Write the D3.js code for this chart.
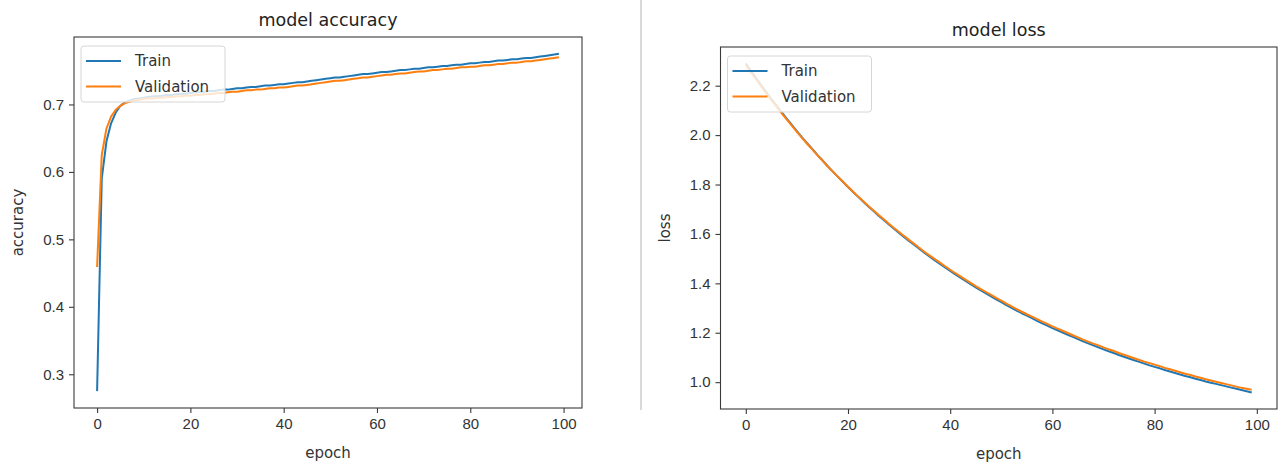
<!DOCTYPE html>
<html>
<head>
<meta charset="utf-8">
<script src="https://cdn.jsdelivr.net/npm/d3@7"></script>
<style>
  body { margin: 0; background: #fff; }
  svg { display: block; font-family: "DejaVu Sans", sans-serif; }
  .axis path, .axis line { stroke: #3a3a3a; stroke-width: 1.1; }
  .axis text { fill: #333; font-size: 15px; }
</style>
</head>
<body>
<script>
  // epochs 0..99
  var epochs = d3.range(100);

  var trainAcc = [
    0.275, 0.590, 0.645, 0.672, 0.688, 0.698, 0.703, 0.706, 0.708, 0.709,
    0.710, 0.711, 0.712, 0.712, 0.713, 0.714, 0.714, 0.715, 0.716, 0.716,
    0.717, 0.718, 0.718, 0.719, 0.720, 0.720, 0.721, 0.722, 0.722, 0.723,
    0.724, 0.724, 0.725, 0.726, 0.726, 0.727, 0.728, 0.728, 0.729, 0.730,
    0.730, 0.731, 0.732, 0.733, 0.733, 0.734, 0.735, 0.736, 0.737, 0.738,
    0.739, 0.740, 0.740, 0.741, 0.742, 0.743, 0.744, 0.745, 0.745, 0.746,
    0.747, 0.748, 0.748, 0.749, 0.750, 0.751, 0.751, 0.752, 0.753, 0.753,
    0.754, 0.755, 0.755, 0.756, 0.757, 0.757, 0.758, 0.759, 0.759, 0.760,
    0.761, 0.761, 0.762, 0.763, 0.763, 0.764, 0.765, 0.765, 0.766, 0.767,
    0.767, 0.768, 0.769, 0.769, 0.770, 0.771, 0.772, 0.773, 0.774, 0.775
  ];

  var valAcc = [
    0.459, 0.625, 0.664, 0.682, 0.692, 0.698, 0.702, 0.704, 0.706, 0.707,
    0.708, 0.709, 0.709, 0.710, 0.710, 0.711, 0.711, 0.712, 0.712, 0.713,
    0.713, 0.714, 0.714, 0.715, 0.715, 0.716, 0.717, 0.717, 0.718, 0.719,
    0.719, 0.720, 0.721, 0.721, 0.722, 0.722, 0.723, 0.724, 0.724, 0.725,
    0.725, 0.726, 0.727, 0.728, 0.728, 0.729, 0.730, 0.731, 0.732, 0.733,
    0.734, 0.735, 0.735, 0.736, 0.737, 0.738, 0.739, 0.740, 0.740, 0.741,
    0.742, 0.743, 0.744, 0.744, 0.745, 0.746, 0.746, 0.747, 0.748, 0.749,
    0.749, 0.750, 0.751, 0.751, 0.752, 0.753, 0.753, 0.754, 0.755, 0.755,
    0.756, 0.756, 0.757, 0.758, 0.758, 0.759, 0.760, 0.760, 0.761, 0.762,
    0.762, 0.763, 0.764, 0.764, 0.765, 0.766, 0.767, 0.768, 0.769, 0.770
  ];

  var trainLoss = [
    2.290, 2.260, 2.231, 2.202, 2.174, 2.146, 2.119, 2.093, 2.067, 2.041,
    2.016, 1.991, 1.967, 1.944, 1.920, 1.898, 1.875, 1.853, 1.832, 1.811,
    1.790, 1.770, 1.750, 1.730, 1.711, 1.693, 1.674, 1.656, 1.638, 1.621,
    1.604, 1.587, 1.571, 1.555, 1.539, 1.523, 1.508, 1.493, 1.479, 1.464,
    1.450, 1.436, 1.423, 1.410, 1.397, 1.384, 1.371, 1.359, 1.347, 1.335,
    1.324, 1.312, 1.301, 1.290, 1.279, 1.269, 1.259, 1.248, 1.238, 1.229,
    1.219, 1.210, 1.201, 1.192, 1.183, 1.174, 1.165, 1.157, 1.149, 1.141,
    1.133, 1.125, 1.118, 1.110, 1.103, 1.096, 1.089, 1.082, 1.075, 1.068,
    1.062, 1.056, 1.049, 1.043, 1.037, 1.031, 1.025, 1.020, 1.014, 1.009,
    1.003, 0.998, 0.993, 0.988, 0.983, 0.978, 0.973, 0.968, 0.963, 0.958
  ];

  var valLoss = [
    2.284, 2.254, 2.226, 2.197, 2.169, 2.142, 2.115, 2.089, 2.064, 2.038,
    2.013, 1.989, 1.965, 1.942, 1.919, 1.897, 1.874, 1.853, 1.832, 1.811,
    1.791, 1.771, 1.751, 1.732, 1.713, 1.695, 1.677, 1.659, 1.641, 1.624,
    1.608, 1.591, 1.575, 1.559, 1.543, 1.527, 1.512, 1.498, 1.484, 1.469,
    1.455, 1.441, 1.428, 1.415, 1.402, 1.389, 1.377, 1.365, 1.353, 1.341,
    1.330, 1.318, 1.307, 1.296, 1.285, 1.275, 1.265, 1.255, 1.245, 1.236,
    1.226, 1.217, 1.208, 1.199, 1.190, 1.181, 1.172, 1.164, 1.156, 1.149,
    1.141, 1.133, 1.126, 1.118, 1.111, 1.104, 1.097, 1.090, 1.083, 1.077,
    1.071, 1.065, 1.058, 1.052, 1.046, 1.040, 1.034, 1.029, 1.023, 1.018,
    1.012, 1.007, 1.002, 0.997, 0.992, 0.987, 0.982, 0.977, 0.973, 0.969
  ];

  var xTicks = [0, 20, 40, 60, 80, 100];
  var accTicks = [0.3, 0.4, 0.5, 0.6, 0.7];
  var lossTicks = [1.0, 1.2, 1.4, 1.6, 1.8, 2.0, 2.2];
  var seriesNames = ['Train', 'Validation'];
  var colors = ['#1f77b4', '#ff7f0e'];

  function translate(x, y) {
    return 'translate(' + x + ',' + y + ')';
  }

  // matplotlib-style 5% margins
  function padded(ext) {
    var m = (ext[1] - ext[0]) * 0.05;
    return [ext[0] - m, ext[1] + m];
  }

  var svg = d3.select('body').append('svg')
      .attr('width', 1278)
      .attr('height', 462);

  // thin separator between the two pictures
  svg.append('line')
      .attr('x1', 641).attr('x2', 641)
      .attr('y1', 0).attr('y2', 410)
      .attr('stroke', '#b5b5b5')
      .attr('stroke-width', 1);

  function panel(p) {
    var w = p.right - p.left,
        h = p.bottom - p.top;

    var x = d3.scaleLinear()
        .domain(padded([0, epochs.length - 1]))
        .range([0, w]);
    var all = p.series[0].concat(p.series[1]);
    var y = d3.scaleLinear()
        .domain(padded(d3.extent(all)))
        .range([h, 0]);

    var g = svg.append('g').attr('transform', translate(p.left, p.top));

    var line = d3.line()
        .x(function(d, i) { return x(epochs[i]); })
        .y(function(d) { return y(d); });

    p.series.forEach(function(s, i) {
      g.append('path')
          .datum(s)
          .attr('fill', 'none')
          .attr('stroke', colors[i])
          .attr('stroke-width', 2)
          .attr('stroke-linejoin', 'round')
          .attr('d', line);
    });

    g.append('g')
        .attr('class', 'x axis')
        .attr('transform', translate(0, h))
        .call(d3.axisBottom(x).tickValues(xTicks).tickSize(5).tickPadding(5)
          .tickFormat(d3.format('d')))
        .call(function(a) { a.select('.domain').remove(); });

    g.append('g')
        .attr('class', 'y axis')
        .call(d3.axisLeft(y).tickValues(p.yTicks).tickSize(5).tickPadding(5)
          .tickFormat(d3.format('.1f')))
        .call(function(a) { a.select('.domain').remove(); });

    g.append('rect')
        .attr('width', w).attr('height', h)
        .attr('fill', 'none')
        .attr('stroke', '#3a3a3a')
        .attr('stroke-width', 1.1);

    g.append('text')
        .attr('x', w / 2).attr('y', p.titleY - p.top)
        .attr('text-anchor', 'middle')
        .attr('font-size', 17.5)
        .attr('fill', '#222')
        .text(p.title);

    g.append('text')
        .attr('x', w / 2).attr('y', h + 50)
        .attr('text-anchor', 'middle')
        .attr('font-size', 15)
        .attr('fill', '#333')
        .text('epoch');

    g.append('text')
        .attr('transform', translate(p.ylabelX - p.left, h / 2) + ' rotate(-90)')
        .attr('text-anchor', 'middle')
        .attr('font-size', 15)
        .attr('fill', '#333')
        .text(p.ylabel);

    // legend, upper left
    var lg = g.append('g').attr('transform', translate(7, 9));
    lg.append('rect')
        .attr('width', 144).attr('height', 56)
        .attr('rx', 3)
        .attr('fill', 'rgba(255,255,255,0.8)')
        .attr('stroke', '#d6d6d6');
    seriesNames.forEach(function(name, i) {
      var yy = 15 + i * 25.5;
      lg.append('line')
          .attr('x1', 5).attr('x2', 40)
          .attr('y1', yy).attr('y2', yy)
          .attr('stroke', colors[i])
          .attr('stroke-width', 2);
      lg.append('text')
          .attr('x', 54).attr('y', yy)
          .attr('dy', '0.35em')
          .attr('font-size', 15)
          .attr('fill', '#333')
          .text(name);
    });
  }

  panel({
    left: 74, right: 582, top: 37, bottom: 408,
    series: [trainAcc, valAcc],
    yTicks: accTicks,
    title: 'model accuracy', titleY: 26,
    ylabel: 'accuracy', ylabelX: 23
  });

  panel({
    left: 720.5, right: 1277, top: 47, bottom: 409,
    series: [trainLoss, valLoss],
    yTicks: lossTicks,
    title: 'model loss', titleY: 36,
    ylabel: 'loss', ylabelX: 670
  });
</script>
</body>
</html>
